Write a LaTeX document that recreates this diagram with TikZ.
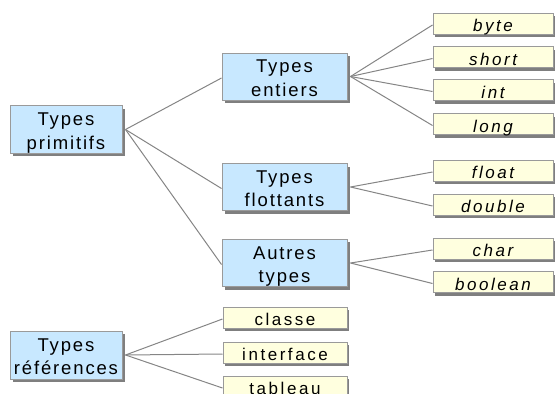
\documentclass[tikz,border=0pt]{standalone}
\usepackage{fontspec}
\setmainfont{Liberation Sans}[LetterSpace=10]
\newfontfamily\leaffont{Liberation Sans}[LetterSpace=15]
\usetikzlibrary{shadows}
\definecolor{boxblue}{HTML}{C8E8FF}
\definecolor{leafyellow}{HTML}{FFFFDF}
\definecolor{bordergray}{HTML}{9A9A9A}
\definecolor{shadowgray}{HTML}{7F7F7F}
\definecolor{linegray}{HTML}{858585}
\newcommand{\toplinestrut}{\rule{0pt}{19.7pt}}
\newcommand{\botlinestrut}{\rule[-3.8pt]{0pt}{3.8pt}}
\tikzset{
  catbox/.style={draw=bordergray, line width=1pt, fill=boxblue, align=center,
    minimum height=47pt, inner sep=0pt, font=\fontsize{18.5}{23.5}\selectfont,
    drop shadow={shadow xshift=3pt, shadow yshift=-3pt, fill=shadowgray, opacity=1}},
  leafbox/.style={draw=bordergray, line width=1pt, fill=leafyellow,
    minimum height=21pt, minimum width=120pt, inner sep=0pt,
    text height=16pt, text depth=0pt, font=\leaffont\fontsize{17}{20}\selectfont,
    drop shadow={shadow xshift=2pt, shadow yshift=-3pt, fill=shadowgray, opacity=1}},
  link/.style={draw=linegray, line width=1pt},
}
\begin{document}
\begin{tikzpicture}[x=1pt,y=-1pt]
\useasboundingbox (0,0) rectangle (555,394);
% category boxes
\node[catbox, minimum width=112pt] (prim) at (66,129.5) {\toplinestrut Types\\primitifs\botlinestrut};
\node[catbox, minimum width=125pt] (ent) at (284.5,76.5) {\toplinestrut Types\\entiers\botlinestrut};
\node[catbox, minimum width=125pt] (flo) at (284.5,187) {\toplinestrut Types\\flottants\botlinestrut};
\node[catbox, minimum width=125pt] (aut) at (284.5,263) {\toplinestrut Autres\\types\botlinestrut};
\node[catbox, minimum width=112pt, minimum height=48pt] (ref) at (66,355) {\toplinestrut Types\\références\botlinestrut};
% leaves
\node[leafbox] (byte) at (493,23.5) {\itshape byte};
\node[leafbox] (short) at (493,57) {\itshape short};
\node[leafbox] (int) at (493,90) {\itshape int};
\node[leafbox] (long) at (493,124) {\itshape long};
\node[leafbox] (float) at (493,170.5) {\itshape float};
\node[leafbox] (double) at (493,204.5) {\itshape double};
\node[leafbox] (char) at (493,248.5) {\itshape char};
\node[leafbox] (bool) at (493,282) {\itshape boolean};
\node[leafbox, minimum width=124pt] (classe) at (285,317.5) {classe};
\node[leafbox, minimum width=124pt] (inter) at (285,352.5) {interface};
\node[leafbox, minimum width=124pt] (tab) at (285,386.5) {tableau};
% connectors
\foreach \c in {ent,flo,aut} \draw[link] ([xshift=3pt]prim.east) -- ([yshift=-1.5pt]\c.west);
\foreach \c in {byte,short,int,long} \draw[link] ([xshift=3pt]ent.east) -- ([yshift=-1.5pt]\c.west);
\foreach \c in {float,double} \draw[link] ([xshift=3pt]flo.east) -- ([yshift=-1.5pt]\c.west);
\foreach \c in {char,bool} \draw[link] ([xshift=3pt]aut.east) -- ([yshift=-1.5pt]\c.west);
\foreach \c in {classe,inter,tab} \draw[link] ([xshift=3pt]ref.east) -- ([yshift=-1.5pt]\c.west);
\end{tikzpicture}
\end{document}
